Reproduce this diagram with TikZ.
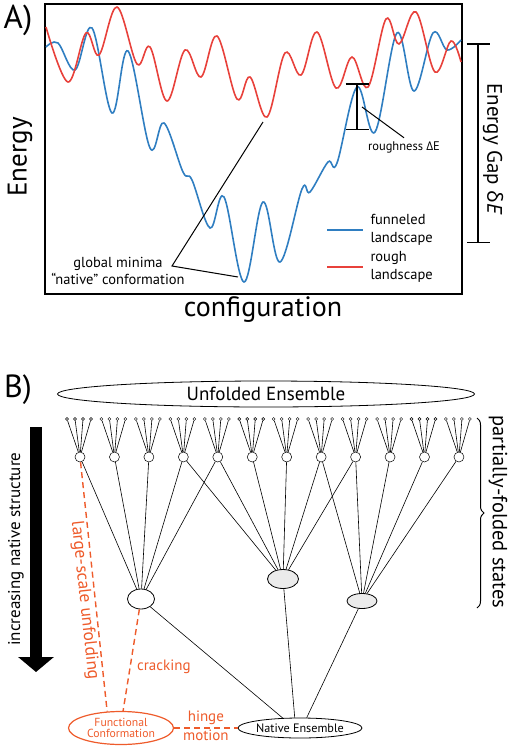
\documentclass[tikz,border=0pt]{standalone}
\usepackage{fontspec}
\setmainfont{PT Sans}
\newfontfamily\grk{Open Sans}
\usetikzlibrary{arrows.meta,positioning,shapes.geometric,decorations.pathreplacing}
\definecolor{funnel}{HTML}{2F7EC1}
\definecolor{rough}{HTML}{E8413B}
\definecolor{func}{HTML}{EE5B2B}
\definecolor{shade}{HTML}{EBEBEB}
\newcommand{\fs}[1]{\fontsize{#1}{1.2\dimexpr#1pt\relax}\selectfont}

\begin{document}
\begin{tikzpicture}[x=1pt,y=-1pt,
    state/.style={circle,draw,fill=white,inner sep=0pt,minimum size=10pt,line width=0.5pt},
    leaf/.style={circle,draw,fill=white,inner sep=0pt,minimum size=3pt,line width=0.4pt},
    basin/.style={ellipse,draw,inner sep=0pt,line width=0.8pt},
    link/.style={line width=0.6pt},
    land/.style={line width=1.6pt},
    fold/.style={func,line width=1.4pt,dash pattern=on 6pt off 4pt},
    gapbar/.style={line width=1.5pt,{Bar[width=23pt]}-{Bar[width=23pt]}},
    lbl/.style={font=\fs{14.5}},
]
\useasboundingbox (0,0) rectangle (511,750);

% panel A: energy landscapes
\node[font=\fs{33}] (panA) at (18,20) {A)};
\draw[line width=1.8pt] (45,4) rectangle (462,294);
\draw[funnel,land] plot[smooth,tension=0.6] coordinates {(46,47) (58,43) (75,70) (92,28) (112,113) (128,51) (150,148) (164,123) (183,172) (192,180) (210,228) (224,197) (244,282) (263,202) (280,262) (302,189) (310,192) (328,162) (337,163) (357,87) (375,132) (397,33) (414,91) (433,33) (447,50) (461,40)};
\draw[rough,land] plot[smooth,tension=0.6] coordinates {(46,27) (68,82) (86,33) (99,55) (117,7) (137,64) (150,47) (167,101) (185,50) (201,77) (217,36) (237,99) (250,77) (267,117) (285,53) (301,75) (317,32) (336,88) (352,57) (368,87) (386,19) (399,44) (416,12) (435,72) (451,41) (461,62)};

\node[rotate=90,font=\fs{27}] (energy) at (20,157) {Energy};
\node[font=\fs{28}] (config) at (263,310) {configuration};

\coordinate (gaptop) at (478,43);
\coordinate (gapbot) at (478,243);
\draw[gapbar] (gaptop) -- (gapbot);
\node[rotate=-90,font=\fs{21}] (gap) at (493,149) {Energy Gap {\grk δ}\textit{E}};

\coordinate (rtop) at (357,83);
\coordinate (rbot) at (357,130);
\draw[gapbar] (rtop) -- (rbot);
\coordinate (rptr) at (362,107);
\node[font=\fs{12.5}] (rlab) at (404,147) {roughness {\grk\fs{12}Δ}E};
\draw[line width=1pt] (rptr) -- (rlab.north);

\node[lbl,align=center] (gm) at (118,271) {global minima\\“native” conformation};
\coordinate (gmtip) at (172,266);
\coordinate (redmin) at (263,122);
\coordinate (bluemin) at (238,277);
\draw[line width=1pt] (redmin) -- (gmtip) -- (bluemin);

\coordinate (lgb1) at (327,230);
\coordinate (lgb2) at (363,230);
\coordinate (lgr1) at (327,267);
\coordinate (lgr2) at (363,267);
\draw[funnel,land] (lgb1) -- (lgb2);
\draw[rough,land] (lgr1) -- (lgr2);
\node[lbl,align=left,anchor=west] (lgbt) at (367,230) {funneled\\landscape};
\node[lbl,align=left,anchor=west] (lgrt) at (367,267) {rough\\landscape};

% panel B: folding tree
\node[font=\fs{32}] (panB) at (18,390) {B)};
\node[basin,minimum width=417pt,minimum height=26pt,font=\fs{19}] (unf) at (266,394) {Unfolded Ensemble};

\foreach \i in {1,...,12} {
  \node[state] (s\i) at ({80+34.45*(\i-1)},457) {};
  \foreach \j/\d in {1/-13,2/-5,3/3,4/11} {
    \node[leaf] (t\i-\j) at ({80+34.45*(\i-1)+\d},419) {};
    \draw[link] (t\i-\j) -- (s\i);
  }
}

\node[basin,fill=white,minimum width=27pt,minimum height=20pt] (L) at (141,599) {};
\node[basin,fill=shade,minimum width=31pt,minimum height=19pt] (M) at (283,579) {};
\node[basin,fill=shade,minimum width=30pt,minimum height=15pt] (R) at (362,601) {};
\node[basin,minimum width=123pt,minimum height=20pt,font=\fs{12.2}] (nat) at (300,728) {Native Ensemble};
\node[basin,draw=func,text=func,line width=1.2pt,minimum width=105pt,minimum height=33pt,align=center,font=\fs{11.7}] (fc) at (121,728) {Functional\\[-3pt]Conformation};

\foreach \a/\b in {1/L,2/L,3/L,4/L,5/L,4/M,5/M,6/M,7/M,8/M,9/M,8/R,9/R,10/R,11/R,12/R}
  \draw[link] (s\a) -- (\b);
\draw[link] (L) -- (nat.150);
\draw[link] (M) -- (nat.117);
\draw[link] (R) -- (nat.57);

\draw[fold] (s1) -- node[pos=0.55,sloped,allow upside down,below=0pt,inner sep=2pt,text=func,font=\fs{17.5}] {large-scale unfolding} (fc.130);
\draw[fold] (L) -- node[pos=0.57,right=3pt,text=func,font=\fs{15}] {cracking} (fc.83);
\draw[fold] (fc) -- node[above=-1pt,text=func,font=\fs{15}] {hinge} node[below=-2pt,text=func,font=\fs{15}] {motion} (nat);

\coordinate (nstop) at (36,427);
\coordinate (nsbot) at (36,672);
\draw[line width=12pt,-{Triangle[length=15pt,width=35pt]}] (nstop) -- (nsbot);
\node[rotate=90,font=\fs{17}] (inc) at (16,549) {increasing native structure};

\coordinate (brtop) at (477,418);
\coordinate (brbot) at (477,608);
\draw[decorate,decoration={brace,amplitude=7pt},line width=1pt] (brtop) -- (brbot);
\node[rotate=-90,font=\fs{20.5}] (pfs) at (498,512) {partially-folded states};
\end{tikzpicture}
\end{document}
